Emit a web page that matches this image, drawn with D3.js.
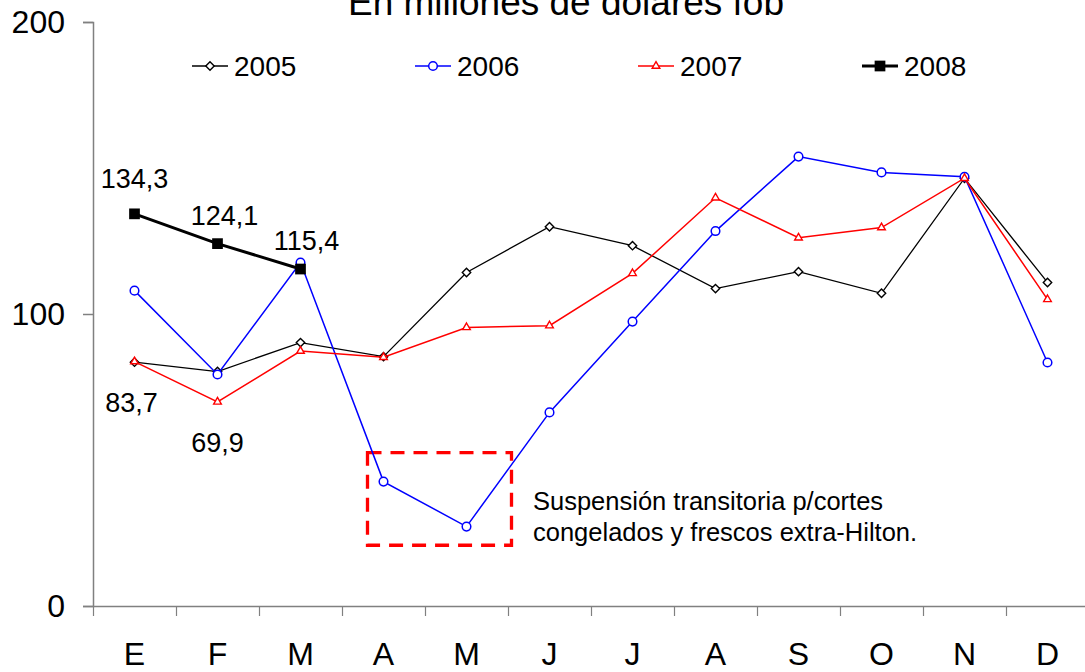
<!DOCTYPE html>
<html>
<head>
<meta charset="utf-8">
<script src="https://cdn.jsdelivr.net/npm/d3@7/dist/d3.min.js"></script>
<style>
  html, body { margin: 0; padding: 0; background: #fff; }
  svg { display: block; font-family: "Liberation Sans", Arial, sans-serif; }
</style>
</head>
<body>
<svg id="chart" width="1085" height="672"></svg>
<script>
/* Monthly exports, millions USD fob — 2005..2008 */

const MONTHS = ["E", "F", "M", "A", "M", "J", "J", "A", "S", "O", "N", "D"];
const Y_TICKS = [0, 100, 200];

const S2005 = [83.5, 80.3, 90.2, 85.4, 114.2, 129.9, 123.4, 108.7, 114.5, 107.1, 146.5, 110.8];
const S2006 = [108.0, 79.3, 117.6, 42.6, 27.2, 66.3, 97.4, 128.4, 153.9, 148.5, 147.0, 83.4];
const S2007 = [83.7, 69.9, 87.3, 85.2, 95.4, 96.0, 113.9, 139.8, 126.1, 129.6, 146.5, 105.0];
const S2008 = [134.3, 124.1, 115.4];

const LABELS_2008 = ["134,3", "124,1", "115,4"];
const LABELS_2007 = ["83,7", "69,9"];

const TITLE = "En millones de dólares fob";
const NOTE = ["Suspensión transitoria p/cortes", "congelados y frescos extra-Hilton."];

const svg = d3.select("#chart");

const x = d3.scaleBand().domain(d3.range(MONTHS.length)).range([93, 1089]);
const y = d3.scaleLinear().domain([0, 200]).range([606, 22]);
const cx = (i) => x(i) + x.bandwidth() / 2;

const AXIS = "#808080";

// title (partly cut off at top, as in the source)
svg.append("text")
  .attr("x", 566).attr("y", 15)
  .attr("text-anchor", "middle")
  .attr("font-size", 37)
  .text(TITLE);

// y axis
const yAxis = svg.append("g")
  .attr("transform", `translate(${x.range()[0]},0)`)
  .call(d3.axisLeft(y).tickValues(Y_TICKS).tickSize(10).tickPadding(18).tickFormat(d3.format("d")));
yAxis.select(".domain").attr("stroke", AXIS).attr("stroke-width", 1.5);
yAxis.selectAll(".tick line").attr("stroke", AXIS).attr("stroke-width", 1.5);
yAxis.selectAll("text").attr("font-size", 32).attr("fill", "#000")
  .attr("font-family", "Liberation Sans, Arial, sans-serif");

// x axis: boundary ticks + centred month letters
const xb = d3.scaleLinear().domain([0, MONTHS.length]).range(x.range());
const xAxis = svg.append("g")
  .attr("transform", `translate(0,${y(0)})`)
  .call(d3.axisBottom(xb).tickValues(d3.range(MONTHS.length + 1)).tickSize(10).tickSizeOuter(0).tickFormat(""));
xAxis.select(".domain").attr("stroke", AXIS).attr("stroke-width", 1.5);
xAxis.selectAll(".tick line").attr("stroke", AXIS).attr("stroke-width", 1.2);

svg.append("g").selectAll("text")
  .data(MONTHS)
  .join("text")
  .attr("x", (d, i) => cx(i))
  .attr("y", 665)
  .attr("text-anchor", "middle")
  .attr("font-size", 32)
  .text((d) => d);

// annotation box
svg.append("rect")
  .attr("x", cx(3) - 16).attr("y", y(52.5))
  .attr("width", 144).attr("height", y(20.8) - y(52.5))
  .attr("fill", "none")
  .attr("stroke", "#ff0000")
  .attr("stroke-width", 3.3)
  .attr("stroke-dasharray", "14,9");

svg.append("text")
  .attr("x", 533).attr("y", 510)
  .attr("font-size", 25.5)
  .selectAll("tspan")
  .data(NOTE)
  .join("tspan")
  .attr("x", 533)
  .attr("dy", (d, i) => (i ? 31 : 0))
  .text((d) => d);

// series
const line = d3.line().x((d, i) => cx(i)).y((d) => y(d));

const diamond = d3.symbol().type(d3.symbolDiamond2).size(45);
const triangle = d3.symbol().type(d3.symbolTriangle2).size(42);
const square = d3.symbol().type(d3.symbolSquare).size(115);

const SERIES = [
  { name: "2005", data: S2005, color: "#000", width: 1.3, marker: "diamond" },
  { name: "2006", data: S2006, color: "#0000ff", width: 1.5, marker: "circle" },
  { name: "2007", data: S2007, color: "#ff0000", width: 1.5, marker: "triangle" },
  { name: "2008", data: S2008, color: "#000", width: 3, marker: "square" },
];

function drawMarker(sel, s) {
  if (s.marker === "circle") {
    sel.append("circle").attr("r", 4.3)
      .attr("fill", "#fff").attr("stroke", s.color).attr("stroke-width", 1.5);
  } else if (s.marker === "square") {
    sel.append("path").attr("d", square).attr("fill", s.color);
  } else {
    sel.append("path").attr("d", s.marker === "diamond" ? diamond : triangle)
      .attr("fill", "#fff").attr("stroke", s.color).attr("stroke-width", 1.4);
  }
}

SERIES.forEach((s) => {
  const g = svg.append("g");
  g.append("path")
    .datum(s.data)
    .attr("d", line)
    .attr("fill", "none")
    .attr("stroke", s.color)
    .attr("stroke-width", s.width);
  s.data.forEach((v, i) => {
    g.append("g")
      .attr("transform", `translate(${cx(i)},${y(v)})`)
      .call(drawMarker, s);
  });
});

// value labels
const lab = svg.append("g").attr("font-size", 27).attr("text-anchor", "middle");
const LAB_POS_2008 = [[0, -26], [7, -19], [6, -19]];
LABELS_2008.forEach((t, i) => {
  lab.append("text")
    .attr("x", cx(i) + LAB_POS_2008[i][0])
    .attr("y", y(S2008[i]) + LAB_POS_2008[i][1])
    .text(t);
});
const LAB_POS_2007 = [[-3, 50], [0, 50]];
LABELS_2007.forEach((t, i) => {
  lab.append("text")
    .attr("x", cx(i) + LAB_POS_2007[i][0])
    .attr("y", y(S2007[i]) + LAB_POS_2007[i][1])
    .text(t);
});

// legend
const LEG_X = [192, 415, 638, 862];
const leg = svg.append("g").attr("transform", "translate(0,66)");
SERIES.forEach((s, i) => {
  const item = leg.append("g").attr("transform", `translate(${LEG_X[i]},0)`);
  item.append("line").attr("x1", 0).attr("x2", 36)
    .attr("stroke", s.color).attr("stroke-width", s.width === 3 ? 3 : 1.5);
  item.append("g").attr("transform", "translate(18,0)").call(drawMarker, s);
  item.append("text").attr("x", 42).attr("y", 10)
    .attr("font-size", 28).text(s.name);
});
</script>
</body>
</html>
